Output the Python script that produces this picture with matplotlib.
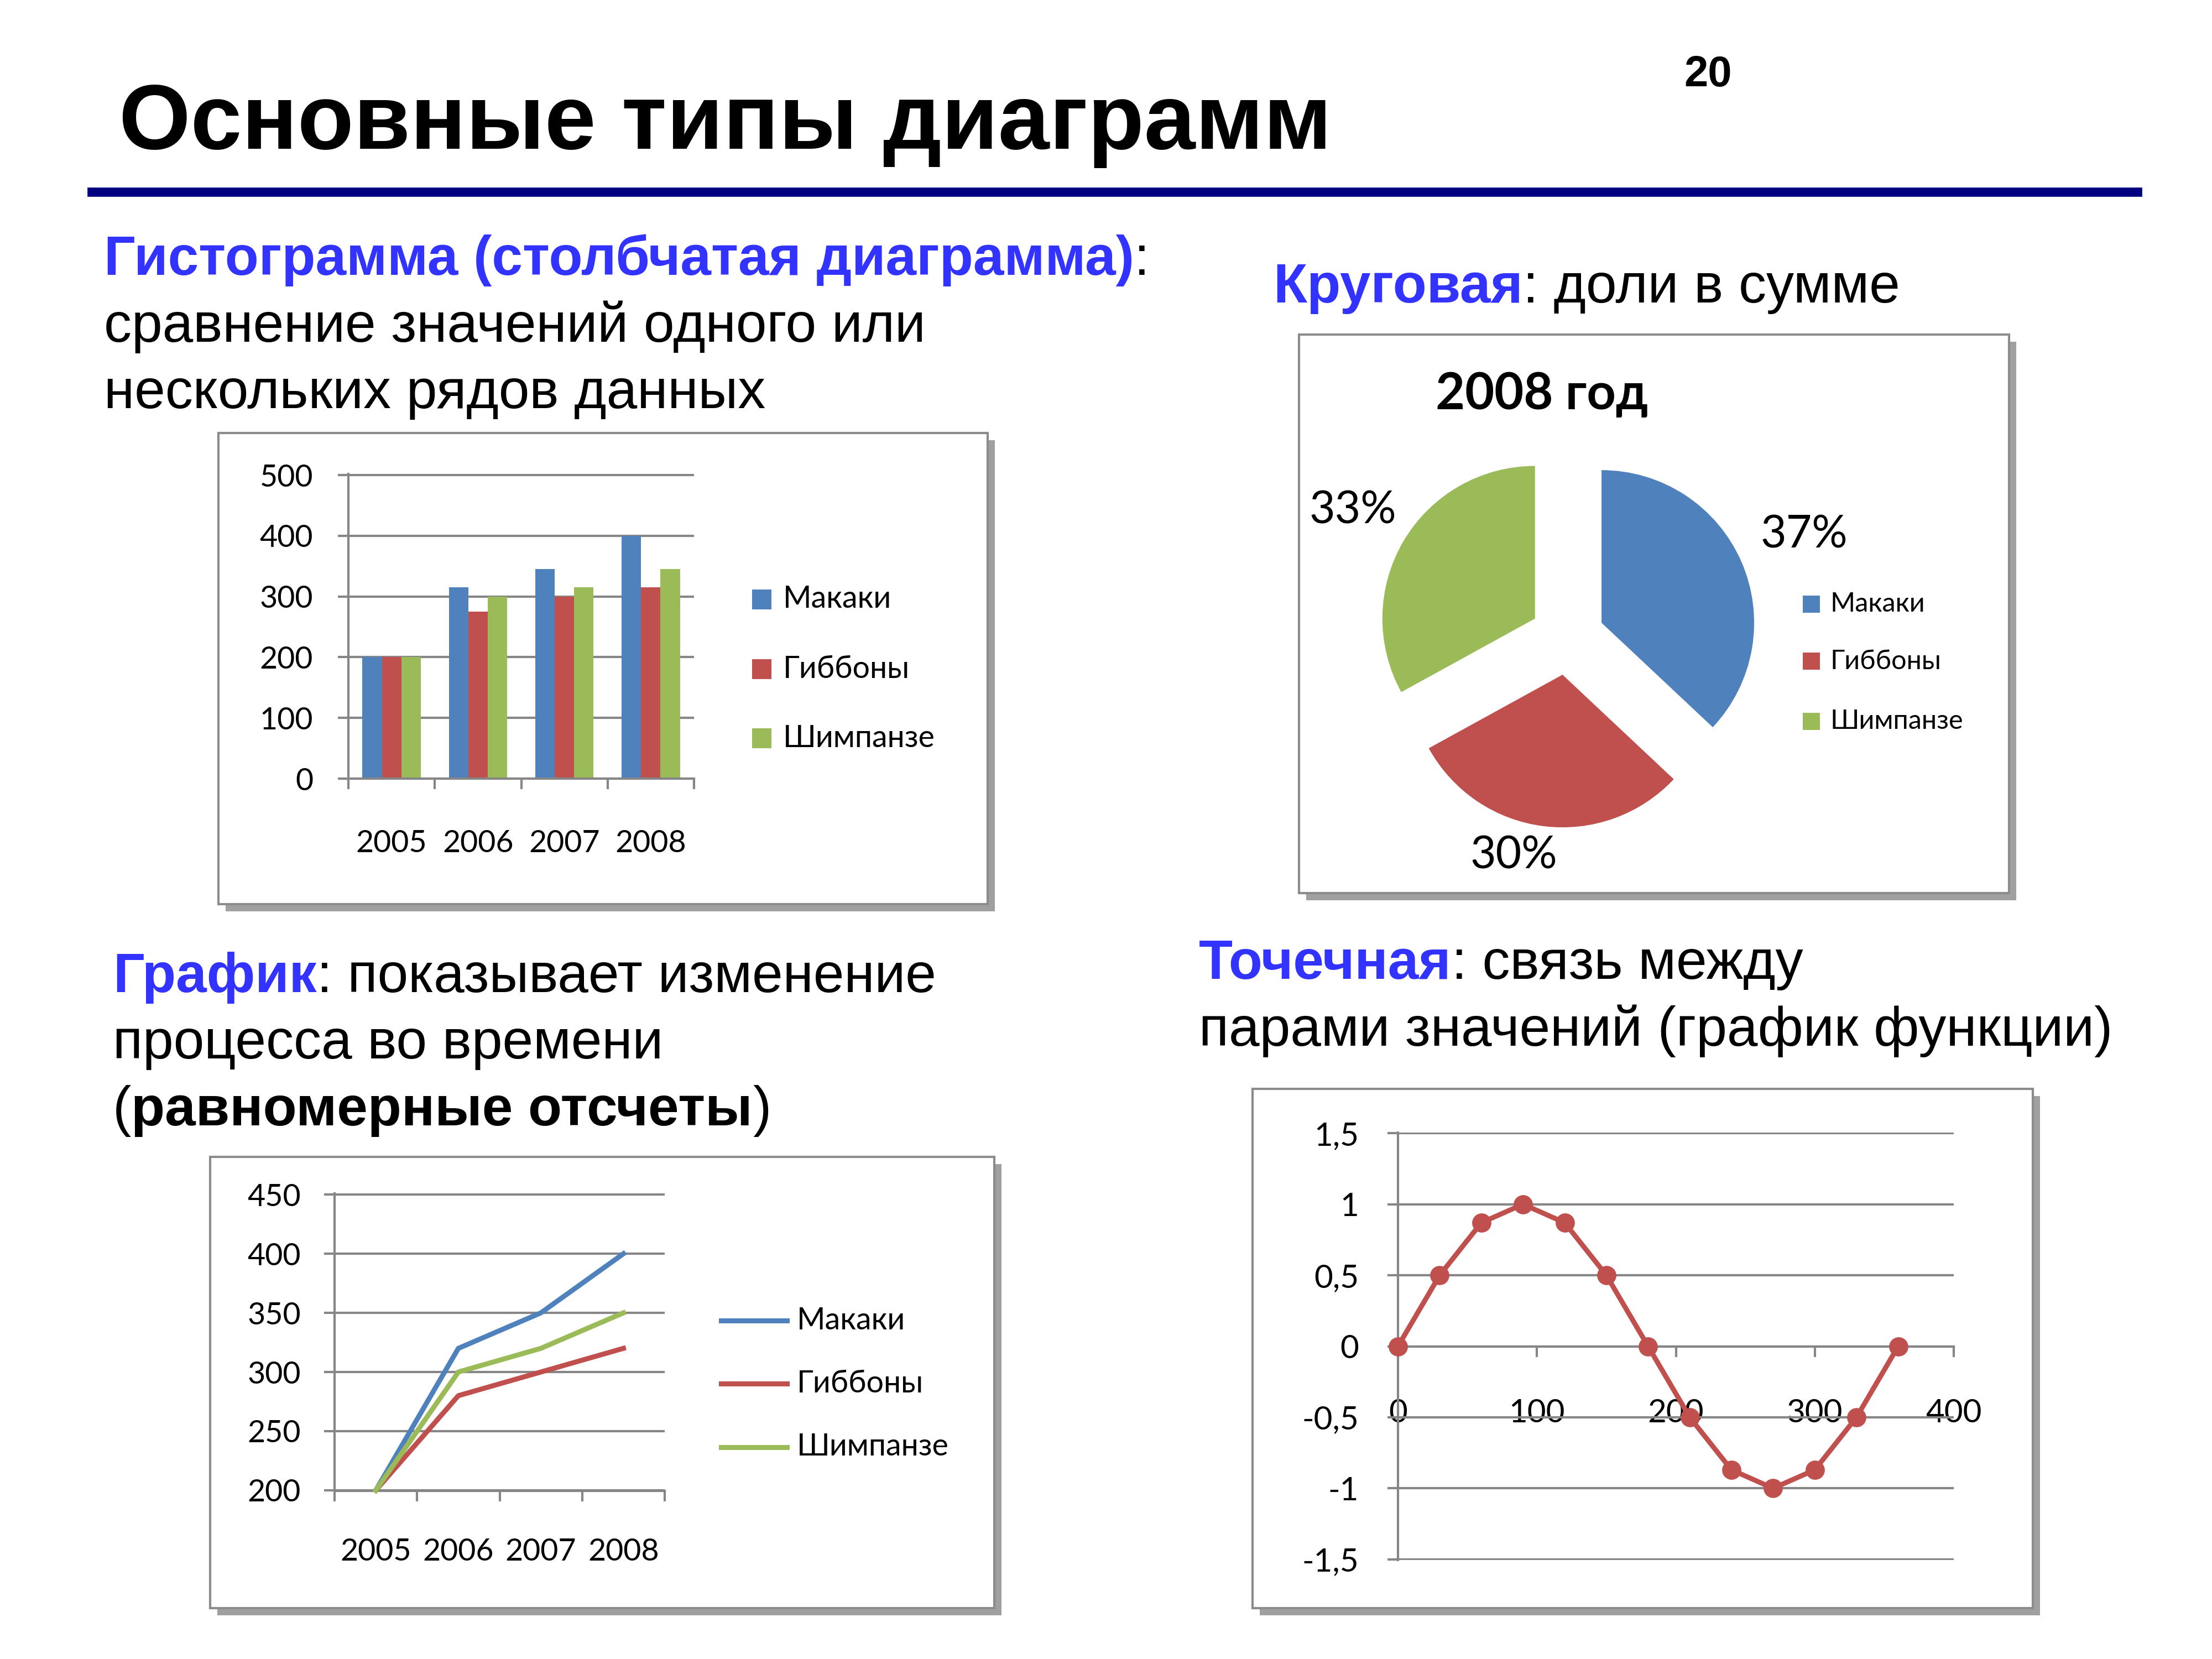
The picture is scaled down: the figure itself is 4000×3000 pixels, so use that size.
import math
import matplotlib
matplotlib.use("Agg")
import matplotlib.pyplot as plt
from matplotlib.patches import Rectangle
from matplotlib.lines import Line2D
from matplotlib.ticker import FixedLocator, FuncFormatter, NullFormatter

# ---------------- data ----------------
years = ['2005', '2006', '2007', '2008']
species = ['Макаки', 'Гиббоны', 'Шимпанзе']
bar_makaki = [200, 315, 345, 400]
bar_gibbons = [200, 275, 300, 315]
bar_chimps = [200, 300, 315, 345]
bar_yticks = [0, 100, 200, 300, 400, 500]

line_makaki = [200, 320, 350, 400]
line_gibbons = [200, 280, 300, 320]
line_chimps = [200, 300, 320, 350]
line_yticks = [200, 250, 300, 350, 400, 450]

pie_title = '2008 год'
pie_shares = [37, 30, 33]

sin_x = [0, 30, 60, 90, 120, 150, 180, 210, 240, 270, 300, 330, 360]
sin_y = [0, 0.5, 0.87, 1, 0.87, 0.5, 0, -0.5, -0.87, -1, -0.87, -0.5, 0]
sin_xticks = [0, 100, 200, 300, 400]
sin_yticks = [-1.5, -1, -0.5, 0, 0.5, 1, 1.5]

slide_title = 'Основные типы диаграмм'
slide_number = '20'

# ---------------- style ----------------
W, H = 4000, 3000
BLUE = '#4F81BD'
RED = '#C0504D'
GREEN = '#9BBB59'
colors = [BLUE, RED, GREEN]
GRID = '#868686'
HL = '#3333FF'
SLIDE_FONT = 'Liberation Sans'
BODY = 72
plt.rcParams['font.family'] = ['Lato', 'DejaVu Sans']

fig = plt.figure(figsize=(40, 30), dpi=100)
fig.patch.set_facecolor('white')
renderer = fig.canvas.get_renderer()


def fx(px):
    return px / W


def fy(py):
    return 1 - py / H


def axes_px(l, t, r, b):
    ax = fig.add_axes([l / W, 1 - b / H, (r - l) / W, (b - t) / H])
    ax.set_facecolor('none')
    return ax


def chart_box(l, t, r, b, sh=13):
    fig.add_artist(Rectangle((fx(l + sh), fy(b + sh)), (r - l) / W, (b - t) / H,
                             transform=fig.transFigure, facecolor='#A0A0A0',
                             edgecolor='none', zorder=-20))
    fig.add_artist(Rectangle((fx(l), fy(b)), (r - l) / W, (b - t) / H,
                             transform=fig.transFigure, facecolor='white',
                             edgecolor='#8C8C8C', linewidth=3, zorder=-10))


def rich_line(x, y, parts, size=BODY):
    cur = x
    for text, color, weight in parts:
        t = fig.text(fx(cur), fy(y), text, color=color, fontweight=weight,
                     fontsize=size, family=SLIDE_FONT, va='baseline', ha='left')
        bb = t.get_window_extent(renderer=renderer)
        cur += bb.width


def style_axes(ax, tick_len=14):
    for s in ['top', 'right']:
        ax.spines[s].set_visible(False)
    for s in ['left', 'bottom']:
        ax.spines[s].set_color(GRID)
        ax.spines[s].set_linewidth(3)
    ax.tick_params(which='major', color=GRID, width=3, length=tick_len,
                   direction='out')
    ax.yaxis.grid(True, color=GRID, linewidth=3)
    ax.set_axisbelow(True)


def legend_patches(x_sq, x_txt, ys, labels, cols, sq, size):
    for yy, lab, c in zip(ys, labels, cols):
        fig.add_artist(Rectangle((fx(x_sq), fy(yy + sq / 2)), sq / W, sq / H,
                                 transform=fig.transFigure, facecolor=c,
                                 edgecolor='none'))
        fig.text(fx(x_txt), fy(yy), lab, fontsize=size, va='center', ha='left')


# ---------------- slide header ----------------
fig.text(fx(215), fy(269), slide_title, fontsize=120, fontweight='bold',
         family=SLIDE_FONT, va='baseline', ha='left')
fig.text(fx(3089), fy(156), slide_number, fontsize=56, fontweight='bold',
         family=SLIDE_FONT, va='baseline', ha='center')
fig.add_artist(Line2D([fx(166), fx(3865)], [fy(347), fy(347)],
                      transform=fig.transFigure, color='#000080', linewidth=12))

# ---------------- slide texts ----------------
rich_line(188, 497, [('Гистограмма (столбчатая диаграмма)', HL, 'bold'),
                     (':', 'black', 'normal')])
rich_line(188, 618, [('сравнение значений одного или', 'black', 'normal')])
rich_line(188, 738, [('нескольких рядов данных', 'black', 'normal')])

rich_line(2302, 547, [('Круговая', HL, 'bold'), (': доли в сумме', 'black', 'normal')])

rich_line(204, 1794, [('График', HL, 'bold'),
                      (': показывает изменение', 'black', 'normal')])
rich_line(204, 1914, [('процесса во времени', 'black', 'normal')])
rich_line(204, 2035, [('(', 'black', 'normal'), ('равномерные отсчеты', 'black', 'bold'),
                      (')', 'black', 'normal')])

rich_line(2168, 1770, [('Точечная', HL, 'bold'), (': связь между', 'black', 'normal')])
rich_line(2168, 1891, [('парами значений (график функции)', 'black', 'normal')])

# ---------------- bar chart ----------------
chart_box(395, 783, 1786, 1635)
ax = axes_px(630, 857, 1255, 1408)
style_axes(ax)
bw = 0.225
centers = [i + 0.5 for i in range(len(years))]
for k, (vals, c) in enumerate(zip([bar_makaki, bar_gibbons, bar_chimps], colors)):
    ax.bar([p + (k - 1) * bw for p in centers], vals, width=bw, color=c,
           edgecolor='none', zorder=2)
ax.set_xlim(0, 4)
ax.set_ylim(0, 502)
ax.set_yticks(bar_yticks)
ax.xaxis.set_major_locator(FixedLocator([0, 1, 2, 3, 4]))
ax.xaxis.set_major_formatter(NullFormatter())
ax.xaxis.set_minor_locator(FixedLocator(centers))
ax.set_xticklabels(years, minor=True)
ax.tick_params(axis='x', which='minor', length=0, pad=66, labelsize=40)
ax.tick_params(axis='y', pad=32, labelsize=40)
legend_patches(1360, 1416, [1084, 1210, 1335], species, colors, 35, 40)

# ---------------- pie chart ----------------
chart_box(2349, 605, 3633, 1615)
R = 276
S = 400
pax = axes_px(2834 - S, 1153 - S, 2834 + S, 1153 + S)
ex = 0.245
wedges, _t, autot = pax.pie(pie_shares, colors=colors, explode=[ex] * 3,
                            startangle=90, counterclock=False, radius=1,
                            autopct='%d%%', pctdistance=1.3,
                            textprops={'fontsize': 58}, center=(0, 0))
label_dist = [1.69, 1.47, 1.63]
label_turn = [0, -6.6, 0]
for w, t, d, tr in zip(wedges, autot, label_dist, label_turn):
    ang = math.radians((w.theta1 + w.theta2) / 2 + tr)
    t.set_position((d * math.cos(ang), d * math.sin(ang)))
    t.set_ha('center')
    t.set_va('center')
lim = S / R
pax.set_xlim(-lim, lim)
pax.set_ylim(-lim, lim)
pax.set_aspect('equal')
pax.axis('off')
fig.text(fx(2788), fy(714), pie_title, fontsize=66, fontweight='bold',
         ha='center', va='center')
legend_patches(3260, 3309, [1092, 1196, 1304], species, colors, 31, 35)

# ---------------- line chart ----------------
chart_box(380, 2092, 1798, 2908)
lax = axes_px(605, 2158, 1202, 2696)
style_axes(lax)
for vals, c in zip([line_makaki, line_gibbons, line_chimps], colors):
    lax.plot(centers, vals, color=c, linewidth=6.5, zorder=3,
             solid_joinstyle='round', clip_on=False)
lax.set_xlim(0, 4)
lax.set_ylim(199.5, 451)
lax.set_yticks(line_yticks)
lax.xaxis.set_major_locator(FixedLocator([0, 1, 2, 3, 4]))
lax.xaxis.set_major_formatter(NullFormatter())
lax.xaxis.set_minor_locator(FixedLocator(centers))
lax.set_xticklabels(years, minor=True)
lax.tick_params(axis='x', which='minor', length=0, pad=61, labelsize=40)
lax.tick_params(axis='y', pad=30, labelsize=40)
for yy, lab, c in zip([2388, 2502, 2617], species, colors):
    fig.add_artist(Line2D([fx(1304), fx(1423)], [fy(yy), fy(yy)],
                          transform=fig.transFigure, color=c, linewidth=6.5))
    fig.text(fx(1441), fy(yy), lab, fontsize=40, va='center', ha='left')

# ---------------- scatter chart ----------------
chart_box(2265, 1969, 3676, 2908)
sax = axes_px(2528, 2048, 3533, 2821)
style_axes(sax)
sax.spines['bottom'].set_position(('data', 0))
sax.plot(sin_x, sin_y, color=RED, linewidth=6.5, marker='o', markersize=24,
         zorder=3, clip_on=False)
sax.set_xlim(0, 400)
sax.set_ylim(-1.505, 1.505)
sax.set_xticks(sin_xticks)
sax.set_yticks(sin_yticks)
sax.yaxis.set_major_formatter(FuncFormatter(lambda v, p: f'{v:g}'.replace('.', ',')))
sax.tick_params(axis='x', pad=54, labelsize=42)
sax.tick_params(axis='y', pad=37, labelsize=42)

fig.savefig('out.png', dpi=100, facecolor='white')
